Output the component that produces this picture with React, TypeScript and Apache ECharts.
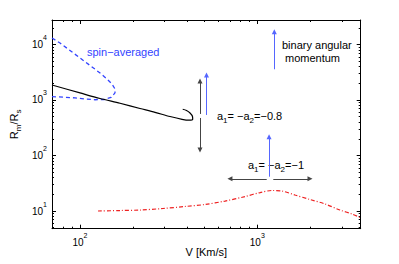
import React, { useEffect, useRef } from 'react';
import * as echarts from 'echarts';

// ---- data (V in km/s, R = Rm/Rs) ----
const spinAvgV = [69.5, 77.1, 87.8, 100, 113.9, 129.7, 142, 151.5, 157.5, 157.5, 149.6, 136.6, 121.5, 106.7, 93.7, 82.3, 69.5];
const spinAvgR = [13100, 10640, 7800, 5710, 4190, 3060, 2390, 1940, 1580, 1340, 1110, 1020, 1010, 1040, 1090, 1120, 1150];

const a08V = [69.5, 100, 129.7, 168.1, 218, 264.9, 321.8, 376.2, 411.9, 432.1, 431, 417.3, 398.7, 379.6];
const a08R = [1860, 1340, 1064, 872, 703, 600, 504, 449, 432.5, 449, 504, 583, 647, 680];

const a1V = [126.3, 168.1, 218, 293.9, 391, 507, 657, 852, 1036, 1210, 1378, 1632, 1983, 2409, 2926, 3421, 3795];
const a1R = [10.0, 10.2, 10.4, 11.1, 12.05, 13.1, 15.1, 18.2, 21.5, 23.4, 22.9, 19.4, 16.1, 13.4, 10.4, 8.84, 7.64];

// arrows: [from, to] as [V, R]
const blackArrows = [
  [[475, 560], [475, 2200]],
  [[475, 474], [475, 126]],
  [[1130, 38], [701, 38]],
  [[1231, 38], [1982, 38]],
];
const blueArrows = [
  [[517, 537], [517, 2820]],
  [[1247, 3575], [1247, 17020]],
  [[1165, 41.5], [1165, 218]],
];

const xMajor = [100, 1000];
const xMinor = [70, 80, 90, 200, 300, 400, 500, 600, 700, 800, 900, 2000, 3000];
const yMajor = [10, 100, 1000, 10000];
const yMinor = [5, 6, 7, 8, 9, 20, 30, 40, 50, 60, 70, 80, 90, 200, 300, 400, 500, 600, 700, 800, 900,
  2000, 3000, 4000, 5000, 6000, 7000, 8000, 9000, 20000];

const X_MIN = 69.5, X_MAX = 3830, Y_MIN = 4.8, Y_MAX = 27600;

const L = Math.log10;
const FONT = 'Liberation Sans, Arial, Helvetica, sans-serif';

export default function App() {
  const ref = useRef<HTMLDivElement>(null);
  useEffect(() => {
    if (!ref.current) return;
    const chart = echarts.init(ref.current, undefined, { renderer: 'svg' });
    const zip = (a: number[], b: number[]) => a.map((v, i) => [L(v), L(b[i])]);
    const arrowData = (arr: number[][][]) =>
      arr.map(([a, b]) => [{ coord: [L(a[0]), L(a[1])] }, { coord: [L(b[0]), L(b[1])] }]);

    const supRich = { sup: { fontSize: 7, verticalAlign: 'top', fontFamily: FONT, color: '#000' } };
    const mkX = (pos: 'bottom' | 'top', ticks: number[], len: number, labels: boolean, line: boolean) => ({
      type: 'value', position: pos, min: L(X_MIN), max: L(X_MAX),
      axisLine: { show: line, onZero: false, lineStyle: { color: '#000', width: 1 } },
      axisTick: { show: true, inside: true, length: len, customValues: ticks.map(L), lineStyle: { color: '#000', width: 1 } },
      axisLabel: labels ? {
        show: true, customValues: xMajor.map(L), margin: 3, fontSize: 10, lineHeight: 21, color: '#000', fontFamily: FONT,
        formatter: (v: number) => '10{sup|' + Math.round(v) + '}', rich: supRich,
      } : { show: false },
      splitLine: { show: false },
    });
    const mkY = (pos: 'left' | 'right', ticks: number[], len: number, labels: boolean, line: boolean) => ({
      type: 'value', position: pos, min: L(Y_MIN), max: L(Y_MAX),
      axisLine: { show: line, onZero: false, lineStyle: { color: '#000', width: 1 } },
      axisTick: { show: true, inside: true, length: len, customValues: ticks.map(L), lineStyle: { color: '#000', width: 1 } },
      axisLabel: labels ? {
        show: true, customValues: yMajor.map(L), margin: 5, fontSize: 10, lineHeight: 21, color: '#000', fontFamily: FONT,
        formatter: (v: number) => '10{sup|' + Math.round(v) + '}', rich: supRich,
      } : { show: false },
      splitLine: { show: false },
    });

    const xAxes: any[] = [
      { ...mkX('bottom', xMajor, 4, true, true), name: 'V [Km/s]', nameLocation: 'middle', nameGap: 18, nameMoveOverlap: false,
        nameTextStyle: { fontSize: 11, color: '#000', fontFamily: FONT } },
      mkX('bottom', xMinor, 2, false, false),
      mkX('top', xMajor, 4, false, true),
      mkX('top', xMinor, 2, false, false),
    ];
    const yAxes: any[] = [
      { ...mkY('left', yMajor, 4, true, true), name: 'R{sub|m}/R{sub|s}', nameLocation: 'middle', nameGap: 30, nameRotate: 90,
        nameMoveOverlap: false,
        nameTextStyle: { fontSize: 11, color: '#000', fontFamily: FONT, lineHeight: 16,
          rich: { sub: { fontSize: 8, verticalAlign: 'bottom', fontFamily: FONT, color: '#000' } } } },
      mkY('left', yMinor, 2, false, false),
      mkY('right', yMajor, 4, false, true),
      mkY('right', yMinor, 2, false, false),
    ];

    const subRich = { sub: { fontSize: 8, verticalAlign: 'bottom', fontFamily: FONT, fill: '#000' } };

    chart.setOption({
      animation: false,
      grid: { left: 52, top: 20, width: 308.7, height: 208.7, containLabel: false, outerBoundsMode: 'none' },
      xAxis: xAxes,
      yAxis: yAxes,
      series: [
        { type: 'line', data: zip(spinAvgV, spinAvgR), showSymbol: false, symbol: 'none',
          lineStyle: { color: '#3344ff', width: 1.3, type: [4, 3] } },
        { type: 'line', data: zip(a08V, a08R), showSymbol: false, symbol: 'none', smooth: 0.3,
          lineStyle: { color: '#000', width: 1.2 } },
        { type: 'line', data: zip(a1V, a1R), showSymbol: false, symbol: 'none', smooth: 0.3,
          lineStyle: { color: '#ee2222', width: 1.2, type: [4, 2, 1, 2] } },
        { type: 'line', data: [], markLine: { silent: true, symbol: ['none', 'triangle'], symbolSize: 5,
            label: { show: false }, lineStyle: { color: '#444', width: 1, type: 'solid' },
            emphasis: { disabled: true }, data: arrowData(blackArrows) } },
        { type: 'line', data: [], markLine: { silent: true, symbol: ['none', 'triangle'], symbolSize: 5,
            label: { show: false }, lineStyle: { color: '#5566ff', width: 1, type: 'solid' },
            emphasis: { disabled: true }, data: arrowData(blueArrows) } },
      ],
      graphic: [
        { type: 'text', x: 87, y: 52, style: { text: 'spin−averaged', fontSize: 11, fontFamily: FONT, fill: '#3344ff', verticalAlign: 'middle' } },
        { type: 'text', x: 282, y: 45, style: { text: 'binary angular', fontSize: 11, fontFamily: FONT, fill: '#000', verticalAlign: 'middle' } },
        { type: 'text', x: 285, y: 58, style: { text: 'momentum', fontSize: 11, fontFamily: FONT, fill: '#000', verticalAlign: 'middle' } },
        { type: 'text', x: 217, y: 116, style: { text: 'a{sub|1}= −a{sub|2}=−0.8', fontSize: 11, lineHeight: 16, fontFamily: FONT, fill: '#000', verticalAlign: 'middle', rich: subRich } },
        { type: 'text', x: 248, y: 165, style: { text: 'a{sub|1}= −a{sub|2}=−1', fontSize: 11, lineHeight: 16, fontFamily: FONT, fill: '#000', verticalAlign: 'middle', rich: subRich } },
      ],
    });
    return () => chart.dispose();
  }, []);
  return <div ref={ref} style={{ position: 'fixed', left: 0, top: 0, width: 399, height: 264, background: '#fff' }} />;
}
